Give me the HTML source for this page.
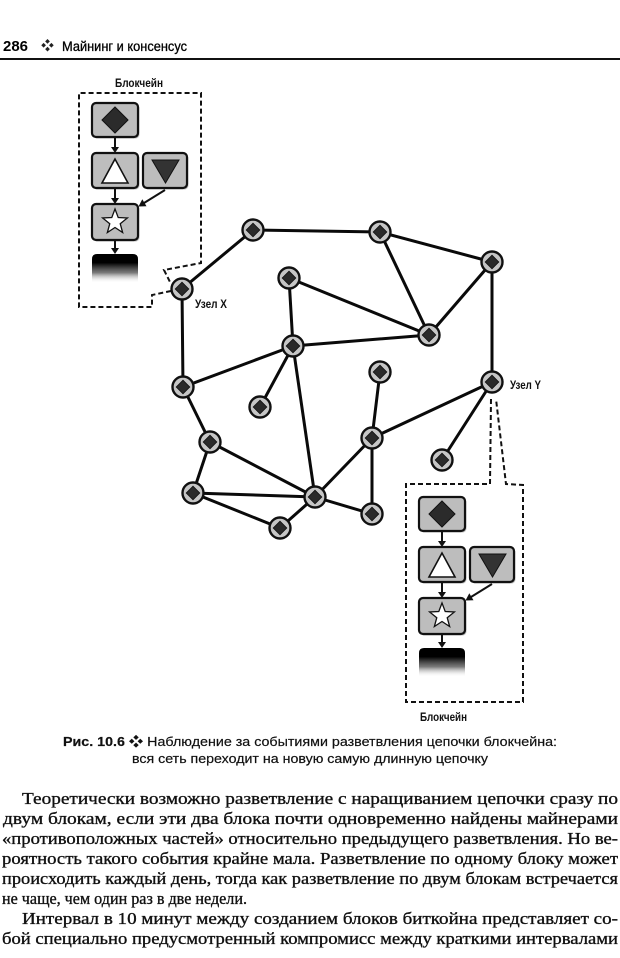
<!DOCTYPE html>
<html>
<head>
<meta charset="utf-8">
<style>
html,body{margin:0;padding:0;background:#fff;}
svg{display:block;}
.sans{font-family:"Liberation Sans","Noto Sans CJK SC",sans-serif;}
.serif{font-family:"Liberation Serif","Noto Serif CJK SC",serif;}
</style>
</head>
<body>
<svg width="620" height="958" viewBox="0 0 620 958" xmlns="http://www.w3.org/2000/svg">
<defs>
<linearGradient id="barg" x1="0" y1="0" x2="0" y2="1">
<stop offset="0" stop-color="#000"/>
<stop offset="0.3" stop-color="#000"/>
<stop offset="0.65" stop-color="#444" stop-opacity="0.7"/>
<stop offset="1" stop-color="#fff" stop-opacity="0"/>
</linearGradient>
<g id="chain">
<rect x="1.5" y="1.5" width="46" height="34" rx="4" fill="#888" opacity="0.5"/>
<rect x="0" y="0" width="46" height="34" rx="4" fill="#bdbdbd" stroke="#111" stroke-width="2.2"/>
<polygon points="23,4 36,17 23,30 10,17" fill="#2b2b2b" stroke="#111" stroke-width="1"/>
<line x1="23" y1="34" x2="23" y2="45" stroke="#111" stroke-width="2"/>
<polygon points="19,44 27,44 23,50" fill="#111"/>
<rect x="1.5" y="51.5" width="46" height="35" rx="4" fill="#888" opacity="0.5"/>
<rect x="0" y="50" width="46" height="35" rx="4" fill="#bdbdbd" stroke="#111" stroke-width="2.2"/>
<polygon points="23,56 10,80 36,80" fill="#fff" stroke="#111" stroke-width="1.6"/>
<rect x="52.5" y="51.5" width="44" height="35" rx="4" fill="#888" opacity="0.5"/>
<rect x="51" y="50" width="44" height="35" rx="4" fill="#bdbdbd" stroke="#111" stroke-width="2.2"/>
<polygon points="60,57 87,57 73.5,80" fill="#333" stroke="#111" stroke-width="1"/>
<line x1="23" y1="85" x2="23" y2="96" stroke="#111" stroke-width="2"/>
<polygon points="19,95 27,95 23,101" fill="#111"/>
<line x1="73" y1="87" x2="52" y2="100" stroke="#111" stroke-width="2"/>
<polygon points="46.5,103.5 54.5,103.2 50.3,96.2" fill="#111"/>
<rect x="1.5" y="102.5" width="46" height="36" rx="4" fill="#888" opacity="0.5"/>
<rect x="0" y="101" width="46" height="36" rx="4" fill="#bdbdbd" stroke="#111" stroke-width="2.2"/>
<polygon points="23,106 26.23,114.55 35.36,114.98 28.23,120.7 30.64,129.52 23,124.5 15.36,129.52 17.77,120.7 10.64,114.98 19.77,114.55" fill="#fff" stroke="#111" stroke-width="1.3"/>
<line x1="23" y1="137" x2="23" y2="146" stroke="#111" stroke-width="2"/>
<polygon points="19,145 27,145 23,151" fill="#111"/>
<path d="M0,156 Q0,151 5,151 H41 Q46,151 46,156 V180 H0 Z" fill="url(#barg)"/>
</g>
<g id="nd">
<circle r="10.5" fill="#c6c6c6" stroke="#111" stroke-width="2.4"/>
<polygon points="0,-6.8 6.8,0 0,6.8 -6.8,0" fill="#2a2a2a" stroke="#111" stroke-width="0.8"/>
</g>
</defs>

<!-- header -->
<text x="3" y="51" class="sans" font-size="15" font-weight="bold" fill="#000" textLength="25" lengthAdjust="spacingAndGlyphs">286</text>
<text x="41" y="50" class="sans" font-size="13" fill="#222">❖</text>
<text x="62" y="51" class="sans" font-size="14" fill="#000" stroke="#000" stroke-width="0.3" textLength="125" lengthAdjust="spacingAndGlyphs">Майнинг и консенсус</text>
<line x1="0" y1="59" x2="620" y2="59" stroke="#111" stroke-width="2"/>

<!-- edges -->
<g stroke="#0a0a0a" stroke-width="3" stroke-linecap="round">
<line x1="182" y1="289" x2="253" y2="230"/>
<line x1="253" y1="230" x2="380" y2="232"/>
<line x1="380" y1="232" x2="492" y2="262"/>
<line x1="380" y1="232" x2="429" y2="335"/>
<line x1="492" y1="262" x2="429" y2="335"/>
<line x1="492" y1="262" x2="492" y2="382"/>
<line x1="182" y1="289" x2="183" y2="387"/>
<line x1="289" y1="278" x2="429" y2="335"/>
<line x1="289" y1="278" x2="293" y2="346"/>
<line x1="293" y1="346" x2="429" y2="335"/>
<line x1="293" y1="346" x2="183" y2="387"/>
<line x1="293" y1="346" x2="260" y2="407"/>
<line x1="293" y1="346" x2="315" y2="497"/>
<line x1="183" y1="387" x2="210" y2="442"/>
<line x1="210" y1="442" x2="193" y2="493"/>
<line x1="210" y1="442" x2="315" y2="497"/>
<line x1="193" y1="493" x2="315" y2="497"/>
<line x1="193" y1="493" x2="280" y2="528"/>
<line x1="280" y1="528" x2="315" y2="497"/>
<line x1="315" y1="497" x2="372" y2="438"/>
<line x1="315" y1="497" x2="372" y2="514"/>
<line x1="372" y1="438" x2="372" y2="514"/>
<line x1="372" y1="438" x2="380" y2="372"/>
<line x1="372" y1="438" x2="492" y2="382"/>
<line x1="492" y1="382" x2="442" y2="460"/>
</g>

<!-- dashed blockchain outlines -->
<g fill="none" stroke="#111" stroke-width="2" stroke-dasharray="5,3">
<path d="M171,291 L152,295 L152,307 L79,307 L79,93 L201,93 L201,263 L164,270 L170,282"/>
<path d="M491,399 L490,484 L406,484 L406,702 L523,702 L523,485 L506,484 L496,399"/>
</g>

<!-- nodes -->
<use href="#nd" x="253" y="230"/>
<use href="#nd" x="380" y="232"/>
<use href="#nd" x="492" y="262"/>
<use href="#nd" x="182" y="289"/>
<use href="#nd" x="289" y="278"/>
<use href="#nd" x="429" y="335"/>
<use href="#nd" x="293" y="346"/>
<use href="#nd" x="183" y="387"/>
<use href="#nd" x="260" y="407"/>
<use href="#nd" x="380" y="372"/>
<use href="#nd" x="492" y="382"/>
<use href="#nd" x="210" y="442"/>
<use href="#nd" x="372" y="438"/>
<use href="#nd" x="442" y="460"/>
<use href="#nd" x="193" y="493"/>
<use href="#nd" x="315" y="497"/>
<use href="#nd" x="372" y="514"/>
<use href="#nd" x="280" y="528"/>

<!-- node labels -->
<text x="195" y="308" class="sans" font-size="12" font-weight="bold" fill="#111" textLength="32" lengthAdjust="spacingAndGlyphs">Узел X</text>
<text x="510" y="389" class="sans" font-size="12" font-weight="bold" fill="#111" textLength="31" lengthAdjust="spacingAndGlyphs">Узел Y</text>

<!-- blockchains -->
<use href="#chain" x="92" y="103"/>
<use href="#chain" x="419" y="497"/>
<text x="115" y="87" class="sans" font-size="12" font-weight="bold" fill="#111" textLength="48" lengthAdjust="spacingAndGlyphs">Блокчейн</text>
<text x="420" y="721" class="sans" font-size="12" font-weight="bold" fill="#111" textLength="47" lengthAdjust="spacingAndGlyphs">Блокчейн</text>

<!-- caption -->
<text x="63" y="746" class="sans" font-size="13" fill="#111" stroke="#111" stroke-width="0.2" textLength="494" lengthAdjust="spacingAndGlyphs"><tspan font-weight="bold">Рис. 10.6</tspan>  ❖  Наблюдение за событиями разветвления цепочки блокчейна:</text>
<text x="132" y="763" class="sans" font-size="13" fill="#111" stroke="#111" stroke-width="0.2" textLength="356" lengthAdjust="spacingAndGlyphs">вся сеть переходит на новую самую длинную цепочку</text>

<!-- body text -->
<g class="serif" font-size="16.5" fill="#111" stroke="#111" stroke-width="0.35">
<text x="22" y="804" textLength="596" lengthAdjust="spacingAndGlyphs">Теоретически  возможно  разветвление  с  наращиванием  цепочки  сразу  по</text>
<text x="3" y="824" textLength="615" lengthAdjust="spacingAndGlyphs">двум  блокам,  если  эти  два  блока  почти  одновременно  найдены  майнерами</text>
<text x="2" y="844" textLength="616" lengthAdjust="spacingAndGlyphs">«противоположных частей» относительно предыдущего разветвления. Но ве-</text>
<text x="2" y="864" textLength="616" lengthAdjust="spacingAndGlyphs">роятность такого события крайне мала. Разветвление по одному блоку может</text>
<text x="2" y="884" textLength="616" lengthAdjust="spacingAndGlyphs">происходить каждый день, тогда как разветвление по двум блокам встречается</text>
<text x="2" y="904" textLength="245" lengthAdjust="spacingAndGlyphs">не чаще, чем один раз в две недели.</text>
<text x="22" y="924" textLength="596" lengthAdjust="spacingAndGlyphs">Интервал  в  10  минут  между  созданием  блоков  биткойна  представляет  со-</text>
<text x="2" y="944" textLength="616" lengthAdjust="spacingAndGlyphs">бой специально предусмотренный компромисс между краткими интервалами</text>
</g>
</svg>
</body>
</html>
